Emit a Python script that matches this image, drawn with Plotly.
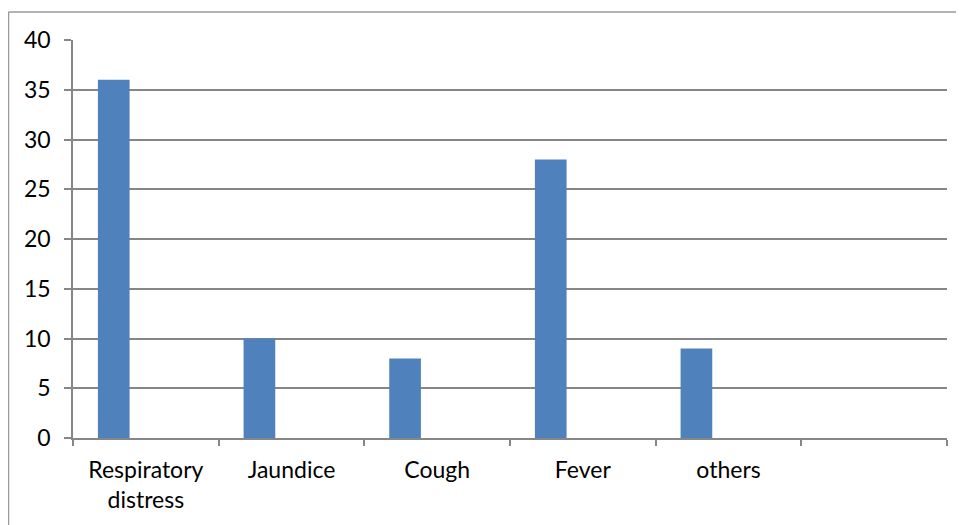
import plotly.graph_objects as go

categories = ["Respiratory<br>distress", "Jaundice", "Cough", "Fever", "others", " "]
values = [36, 10, 8, 28, 9, None]
y_ticks = [0, 5, 10, 15, 20, 25, 30, 35, 40]

FONT = "Lato"
GRID = "#868686"

fig = go.Figure()
fig.add_trace(go.Bar(
    x=categories, y=values,
    marker=dict(color="#4F81BD", line=dict(width=0)),
    width=0.2175, offset=-0.329,
))

# chart-area border (left and top)
fig.add_shape(type="line", xref="paper", yref="paper",
              x0=-0.0738, x1=-0.0738, y0=1.0703, y1=-0.3,
              line=dict(color="#9a9a9a", width=1.5))
fig.add_shape(type="line", xref="paper", yref="paper",
              x0=-0.0738, x1=1.05, y0=1.0703, y1=1.0703,
              line=dict(color="#9a9a9a", width=1.5))

fig.update_layout(
    width=964, height=525,
    margin=dict(l=65, r=25, t=31.5, b=95.3),
    paper_bgcolor="white", plot_bgcolor="white",
    showlegend=False,
    font=dict(family=FONT, size=23, color="#000000"),
    xaxis=dict(
        type="category", tickson="boundaries", ticks="outside", ticklen=6,
        tickcolor=GRID, tickwidth=1.5,
        showline=True, linecolor=GRID, linewidth=1.5,
        showgrid=False, range=[-0.5, 5.5], automargin=False,
        ticklabelstandoff=11,
        tickfont=dict(family=FONT, size=23),
    ),
    yaxis=dict(
        range=[0, 40], tickvals=y_ticks, ticks="outside", ticklen=7,
        tickcolor=GRID, tickwidth=1.5,
        showline=True, linecolor=GRID, linewidth=1.5,
        showgrid=True, gridcolor=GRID, gridwidth=1.5,
        zeroline=False, ticklabelstandoff=9, automargin=False,
        tickfont=dict(family=FONT, size=23),
    ),
)

fig.write_html("out.html")
